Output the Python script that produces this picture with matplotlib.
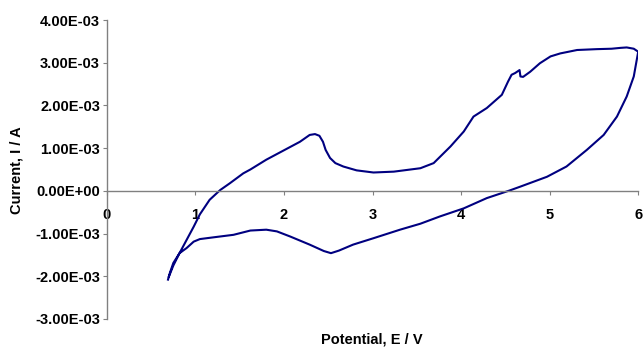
import matplotlib
matplotlib.use("Agg")
import matplotlib.pyplot as plt
import numpy as np
from matplotlib.ticker import FormatStrFormatter

plt.rcParams['font.family'] = ['Liberation Sans', 'DejaVu Sans']
plt.rcParams['font.weight'] = 'bold'

# 正向扫描 (V, mA)
forward_E = [0.70, 0.75, 0.82, 0.90, 0.98, 1.05, 1.16, 1.28, 1.39, 1.54, 1.62,
             1.80, 1.99, 2.18, 2.29, 2.35, 2.40, 2.44, 2.47, 2.52, 2.58, 2.67,
             2.82, 3.01, 3.24, 3.54, 3.69, 3.88, 4.03, 4.14, 4.29, 4.46, 4.53,
             4.57, 4.61, 4.66, 4.67, 4.70, 4.78, 4.89, 5.01, 5.12, 5.31, 5.53,
             5.70, 5.80, 5.87, 5.95, 6.00]
forward_I = [-2.01, -1.75, -1.46, -1.15, -0.84, -0.55, -0.21, 0.02, 0.18, 0.41, 0.50,
             0.73, 0.94, 1.15, 1.31, 1.33, 1.29, 1.15, 0.96, 0.77, 0.65, 0.57,
             0.48, 0.43, 0.45, 0.53, 0.65, 1.04, 1.39, 1.74, 1.94, 2.25, 2.56,
             2.72, 2.76, 2.83, 2.68, 2.67, 2.79, 2.99, 3.15, 3.22, 3.30, 3.32,
             3.33, 3.35, 3.36, 3.33, 3.26]

# 反向扫描
reverse_E = [6.00, 5.95, 5.87, 5.76, 5.61, 5.42, 5.19, 4.97, 4.67, 4.55, 4.29,
             4.03, 3.76, 3.54, 3.31, 3.01, 2.78, 2.62, 2.53, 2.45, 2.29, 2.07,
             1.92, 1.80, 1.62, 1.43, 1.20, 1.05, 0.98, 0.90, 0.82, 0.75, 0.71, 0.69]
reverse_I = [3.26, 2.68, 2.21, 1.74, 1.31, 0.96, 0.57, 0.33, 0.10, 0.01, -0.17,
             -0.41, -0.60, -0.77, -0.91, -1.11, -1.26, -1.40, -1.46, -1.41, -1.26, -1.07,
             -0.95, -0.91, -0.93, -1.03, -1.09, -1.13, -1.19, -1.34, -1.46, -1.69, -1.93, -2.08]

E = np.array(forward_E + reverse_E)
I = np.array(forward_I + reverse_I) * 1e-3

fig = plt.figure(figsize=(6.44, 3.47), dpi=100)
ax = fig.add_axes([0.166, 0.081, 0.825, 0.861])

ax.plot(E, I, color='#000080', linewidth=1.5)

ax.set_xlim(0, 6)
ax.set_ylim(-3e-3, 4e-3)
ax.set_xticks(range(0, 7))
ax.set_yticks(np.arange(-3e-3, 4.5e-3, 1e-3))
ax.yaxis.set_major_formatter(FormatStrFormatter('%.2E'))

# x轴放在 y=0 处
ax.spines['bottom'].set_position(('data', 0))
ax.spines['top'].set_visible(False)
ax.spines['right'].set_visible(False)
for s in ['left', 'bottom']:
    ax.spines[s].set_color('#808080')
    ax.spines[s].set_linewidth(1.0)

ax.tick_params(axis='both', direction='out', length=3, width=0.8, color='#808080',
               labelsize=10.5)
ax.tick_params(axis='x', pad=9)
ax.tick_params(axis='y', pad=2)
for lab in ax.get_xticklabels() + ax.get_yticklabels():
    lab.set_fontweight('bold')

fig.text(0.578, 0.023, 'Potential, E / V', ha='center', va='center',
         fontsize=10.5, fontweight='bold')
fig.text(0.025, 0.51, 'Current, I / A', ha='center', va='center', rotation=90,
         fontsize=10.5, fontweight='bold')

plt.savefig('out.png', dpi=100)
